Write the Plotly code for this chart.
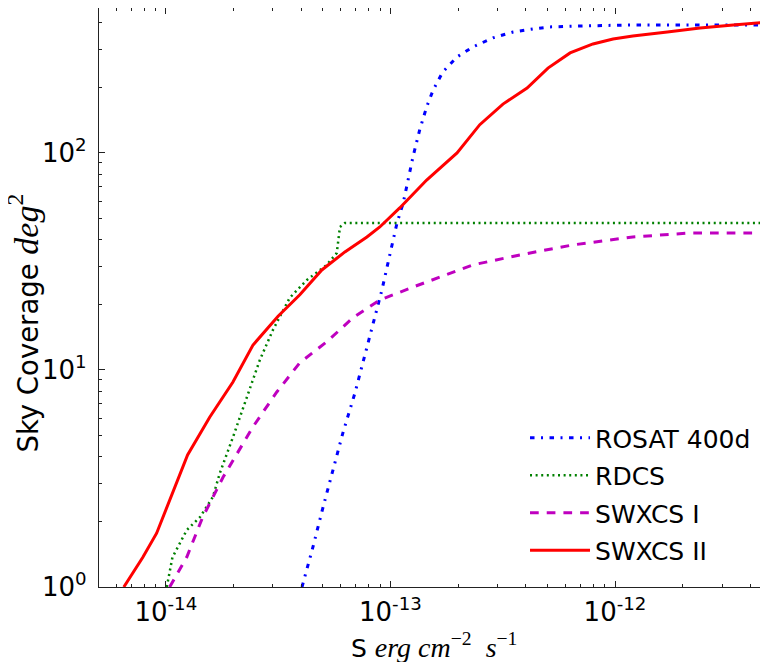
import math
import plotly.graph_objects as go

# ---------------- data ----------------
rosat_x = [4.04e-14, 4.52e-14, 5.00e-14, 5.54e-14, 6.14e-14, 6.95e-14, 8.11e-14, 9.17e-14,
           9.75e-14, 1.07e-13, 1.14e-13, 1.19e-13, 1.26e-13, 1.35e-13, 1.45e-13, 1.55e-13,
           1.71e-13, 1.98e-13, 2.33e-13, 2.86e-13, 3.52e-13, 4.31e-13, 5.13e-13, 7.2e-13,
           1.2e-12, 4.8e-12]
rosat_y = [1.0, 1.53, 2.31, 3.46, 5.12, 7.83, 14.2, 23.4, 31.1, 47.6, 58.8, 72.7, 95.9,
           127.7, 163, 195, 236, 277, 308, 339, 361, 373, 381, 385, 389, 389]

rdcs_x = [1.01e-14, 1.07e-14, 1.24e-14, 1.42e-14, 1.62e-14, 1.74e-14, 1.99e-14, 2.30e-14,
          2.62e-14, 3.0e-14, 3.56e-14, 4.25e-14, 5.21e-14, 5.77e-14, 5.96e-14, 6.27e-14,
          4.8e-12]
rdcs_y = [1.0, 1.37, 1.83, 2.10, 2.60, 3.35, 4.9, 7.5, 11.1, 15.3, 21.5, 26.0, 30.5, 34.6,
          45.6, 47.6, 47.6]

swxcs1_x = [1.04e-14, 1.24e-14, 1.46e-14, 1.80e-14, 2.44e-14, 3.12e-14, 3.95e-14, 5.21e-14,
            6.81e-14, 8.97e-14, 1.26e-13, 2.33e-13, 3.77e-13, 6.50e-13, 1.20e-12, 2.16e-12,
            4.8e-12]
swxcs1_y = [1.0, 1.375, 2.10, 3.21, 5.46, 7.92, 10.8, 13.5, 17.4, 21.0, 24.1, 30.5, 33.9,
            37.7, 41.0, 42.8, 42.8]

swxcs2_x = [6.5e-15, 7.9e-15, 9.1e-15, 1.04e-14, 1.25e-14, 1.57e-14, 1.99e-14, 2.44e-14,
            3.16e-14, 3.95e-14, 4.95e-14, 6.27e-14, 7.86e-14, 8.97e-14, 1.10e-13, 1.45e-13,
            1.98e-13, 2.50e-13, 3.17e-13, 4.06e-13, 5.03e-13, 6.31e-13, 7.98e-13, 9.8e-13,
            1.2e-12, 1.71e-12, 2.39e-12, 3.36e-12, 4.8e-12]
swxcs2_y = [1.0, 1.37, 1.77, 2.52, 4.06, 6.07, 8.8, 13.0, 17.7, 22.2, 28.9, 35.0, 41.0,
            45.6, 55.8, 75, 100, 135, 168, 199, 246, 289, 318, 335, 346, 361, 377, 389, 401]

x_tick_vals = [1e-14, 1e-13, 1e-12]
x_tick_text = ["10<sup>-14</sup>", "10<sup>-13</sup>", "10<sup>-12</sup>"]
y_tick_vals = [1, 10, 100]
y_tick_text = ["10<sup>0</sup>", "10<sup>1</sup>", "10<sup>2</sup>"]

x_minor = [k * 10.0 ** e for e in range(-15, -11) for k in range(2, 10)]
y_minor = [k * 10.0 ** e for e in range(0, 3) for k in range(2, 10)]

FONT = "DejaVu Sans"
MATH = "Liberation Serif"

fig = go.Figure()
fig.add_trace(go.Scatter(x=rosat_x, y=rosat_y, mode="lines", name="ROSAT 400d",
                         legendgroup="a",
                         line=dict(color="#0000ff", width=3, dash="4.5px,6.5px,2px,6.5px")))
fig.add_trace(go.Scatter(x=rdcs_x, y=rdcs_y, mode="lines", name="RDCS",
                         legendgroup="b",
                         line=dict(color="#008000", width=2.5, dash="2px,3.6px")))
fig.add_trace(go.Scatter(x=swxcs1_x, y=swxcs1_y, mode="lines", name="SWXCS I",
                         legendgroup="c",
                         line=dict(color="#bf00bf", width=3, dash="8.7px,8px")))
fig.add_trace(go.Scatter(x=swxcs2_x, y=swxcs2_y, mode="lines", name="SWXCS II",
                         legendgroup="d",
                         line=dict(color="#ff0000", width=3)))

axis_common = dict(
    showline=True, linecolor="#222222", linewidth=1.3, showgrid=False, zeroline=False,
    ticks="inside", ticklen=6, tickwidth=1.2, tickcolor="#222222",
    tickfont=dict(family=FONT, size=26, color="black"),
    automargin=False,
)

fig.update_xaxes(
    type="log",
    range=[math.log10(5.04e-15), math.log10(4.8e-12)],
    tickmode="array", tickvals=x_tick_vals, ticktext=x_tick_text,
    minor=dict(tickmode="array", tickvals=x_minor, ticks="inside", ticklen=3.3,
               tickwidth=1, tickcolor="#222222"),
    mirror="allticks",
    ticklabelstandoff=2,
    **axis_common,
)
fig.update_yaxes(
    type="log",
    range=[0, 2.668],
    tickmode="array", tickvals=y_tick_vals, ticktext=y_tick_text,
    minor=dict(tickmode="array", tickvals=y_minor, ticks="inside", ticklen=3.3,
               tickwidth=1, tickcolor="#222222"),
    mirror=False,
    ticklabelstandoff=6,
    **axis_common,
)

fig.add_annotation(
    xref="paper", yref="paper", x=0.5, y=0, yshift=-78, xanchor="center", yanchor="bottom",
    showarrow=False,
    text=("S <span style='font-family:" + MATH + ";font-size:28px'><i>erg cm</i>"
          "<sup>\u22122</sup>  <i>s</i><sup>\u22121</sup></span>"),
    font=dict(family=FONT, size=25, color="black"),
)
fig.add_annotation(
    xref="paper", yref="paper", x=0, xshift=-76, y=0.455, xanchor="center", yanchor="middle",
    showarrow=False, textangle=-90,
    text=("Sky Coverage <span style='font-family:" + MATH + ";font-size:34px'><i>deg</i>"
          "<sup>2</sup></span>"),
    font=dict(family=FONT, size=27.5, color="black"),
)

# the page body adds an 8px offset, so the figure is sized/margined to compensate
fig.update_layout(
    width=760, height=654,
    margin=dict(l=91, r=0, t=0, b=75),
    paper_bgcolor="white", plot_bgcolor="white",
    showlegend=True,
    legend=dict(x=0.6368, y=0.297, xanchor="left", yanchor="top",
                font=dict(family=FONT, size=25, color="black"),
                bgcolor="rgba(0,0,0,0)", borderwidth=0, itemwidth=60,
                traceorder="grouped", tracegroupgap=2),
)

fig.write_html("out.html")
